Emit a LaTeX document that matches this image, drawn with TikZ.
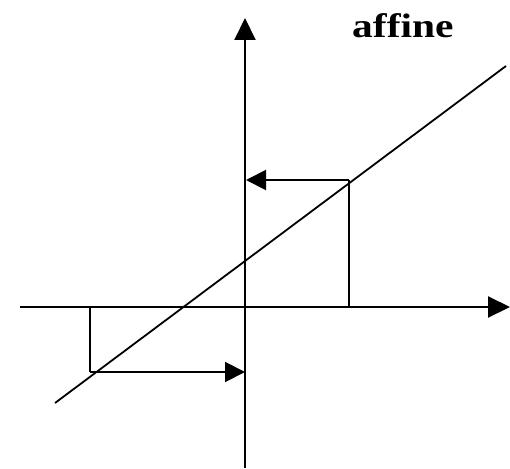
\documentclass[tikz,border=0pt]{standalone}
\usepackage{fontspec}
\setmainfont{Liberation Serif}
\usetikzlibrary{arrows.meta}
\tikzset{
  axis/.style={line width=2pt, -{Triangle[length=22pt,width=21pt]}},
  guide/.style={line width=2pt},
  proj/.style={line width=2pt, -{Triangle[length=20pt,width=20pt]}},
  fnline/.style={line width=1.8pt},
  lbl/.style={inner sep=0pt, anchor=base west}
}
\begin{document}
\begin{tikzpicture}[x=1pt,y=-1pt]
\useasboundingbox (0,0) rectangle (510,468);
% axes
\coordinate (ybot) at (245,468);
\coordinate (ytop) at (245,18);
\coordinate (xleft) at (20,307);
\coordinate (xright) at (510,307);
\draw[axis] (ybot) -- (ytop);
\draw[axis] (xleft) -- (xright);
% affine line
\coordinate (la) at (55,403);
\coordinate (lb) at (506,66);
\draw[fnline] (la) -- (lb);
% upper projection
\coordinate (ub) at (349,307);
\coordinate (uc) at (349,180);
\coordinate (ue) at (246,180);
\draw[guide] (ub) -- (uc);
\draw[proj] (uc) -- (ue);
% lower projection
\coordinate (lwb) at (90,307);
\coordinate (lwc) at (90,372);
\coordinate (lwe) at (245,372);
\draw[guide] (lwb) -- (lwc);
\draw[proj] (lwc) -- (lwe);
% label
\node[lbl] (title) at (352,37.5) {\scalebox{1.22}[1]{\fontsize{34}{40}\selectfont\bfseries affine}};
\end{tikzpicture}
\end{document}
